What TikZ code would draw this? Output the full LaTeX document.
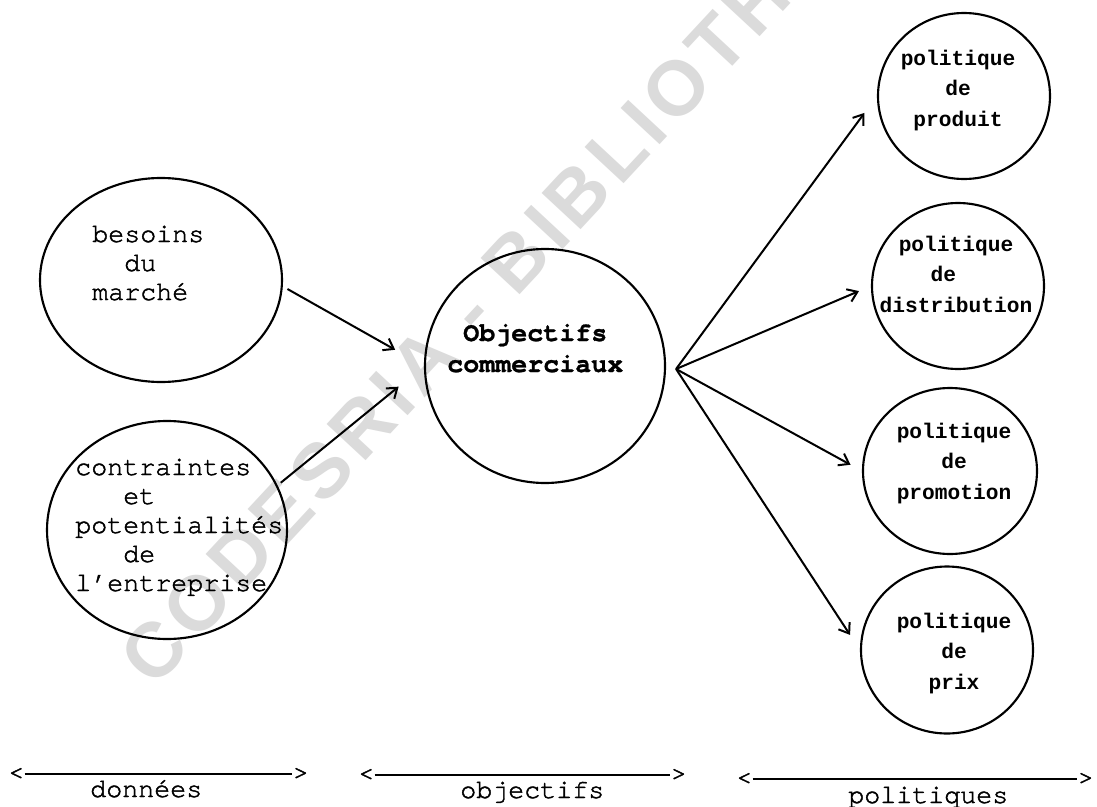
\documentclass[tikz,border=0pt]{standalone}
\usepackage{fontspec}
\setmonofont{Liberation Mono}
\newfontfamily\courier[FakeBold=1.6]{TeX Gyre Cursor}
\newfontfamily\courierbold[FakeBold=1]{TeX Gyre Cursor Bold}
\newfontfamily\wmfont[LetterSpace=8]{Liberation Sans Bold}
\usetikzlibrary{shapes.geometric,arrows.meta}

% stacked lines with the first baseline as the reference point
\newcommand\stackl[1]{\begin{tabular}[t]{@{}l@{}}#1\end{tabular}}
\newcommand\stackc[1]{\begin{tabular}[t]{@{}c@{}}#1\end{tabular}}

\begin{document}
\begin{tikzpicture}[x=0.75pt,y=-0.75pt,
  bubble/.style 2 args={draw,ellipse,inner sep=0pt,line width=1.6pt,
    minimum width=#1*0.75pt,minimum height=#2*0.75pt},
  type/.style={inner sep=0pt,font=\courier\fontsize{20}{21.75}\selectfont},
  typebold/.style={inner sep=0pt,font=\courierbold\fontsize{20}{23.25}\selectfont},
  pol/.style={inner sep=0pt,font=\ttfamily\bfseries\fontsize{15.9}{23}\selectfont},
  arr/.style={line width=1.5pt,-{Straight Barb[length=7pt,width=10pt]}},
  rule/.style={line width=1.4pt},
  wm/.style={rotate=47.1,anchor=west,inner sep=0pt,text=black!14,
    font=\wmfont\fontsize{58}{58}\selectfont}]

\fill[white] (0,0) rectangle (1097,807);
\useasboundingbox (0,0) rectangle (1097,807);

% library stamp behind the drawing
\node[wm] (stamp) at (140,676) {CODESRIA - BIBLIOTHEQUE};

% circles
\node[bubble={242}{204}] (bes)  at (161,280) {};
\node[bubble={240}{218}] (cont) at (167,530) {};
\node[bubble={240}{234}] (obj)  at (545,366) {};
\node[bubble={172}{166}] (prod) at (964,96)  {};
\node[bubble={172}{166}] (dist) at (958,286) {};
\node[bubble={174}{166}] (prom) at (950,471) {};
\node[bubble={172}{167}] (prix) at (947,650) {};

% circle texts
\node[type,anchor=base west] (tbes) at (92,242)
  {\stackl{besoins\\\hphantom{xx}du\\marché}};
\node[type,anchor=base west] (tcont) at (75,475)
  {\stackl{contraintes\\\hphantom{xxx}et\\potentialités\\\hphantom{xxx}de\\l’entreprise}};
\node[typebold,anchor=base west] (tobj) at (447,341)
  {\stackl{\hphantom{x}Objectifs\\commerciaux}};
\node[pol,anchor=base] (tprod) at (958,65)  {\stackc{politique\\de\\produit}};
\node[pol,anchor=base] (tdist) at (956,251) {\stackc{politique\\de\hphantom{xx}\\distribution}};
\node[pol,anchor=base] (tprom) at (954,438) {\stackc{politique\\de\\promotion}};
\node[pol,anchor=base] (tprix) at (954,628) {\stackc{politique\\de\\prix}};

% inputs to the objectives
\draw[arr,shorten <=4pt,shorten >=24.75pt] (bes.-3) -- (obj.west);
\draw[arr,shorten <=3pt,shorten >=24.5pt] (cont.22) -- (obj.west);

% fan out to the policies
\coordinate (hub) at ([shift={(10,3)}]obj.east);
\draw[arr,shorten >=15.75pt] (hub) -- (prod.west);
\draw[arr,shorten >=9.75pt]  (hub) -- (dist.west);
\draw[arr,shorten >=9.75pt]  (hub) -- (prom.west);
\draw[arr,shorten >=13.5pt]  (hub) -- (prix.west);

% column rulers
\node[type,anchor=west] (dl) at (8,774)   {<};
\node[type,anchor=east] (dr) at (309,774) {>};
\draw[rule] (dl.east) -- (dr.west);
\node[type,anchor=base west] (ldon) at (90,797) {données};

\node[type,anchor=west] (ol) at (358,775) {<};
\node[type,anchor=east] (or) at (687,775) {>};
\draw[rule] (ol.east) -- (or.west);
\node[type,anchor=base west] (lobj) at (460,798) {objectifs};

\node[type,anchor=west] (pl) at (736,779)  {<};
\node[type,anchor=east] (pr) at (1094,779) {>};
\draw[rule] (pl.east) -- (pr.west);
\node[type,anchor=base west] (lpol) at (848,803) {politiques};

\end{tikzpicture}
\end{document}
